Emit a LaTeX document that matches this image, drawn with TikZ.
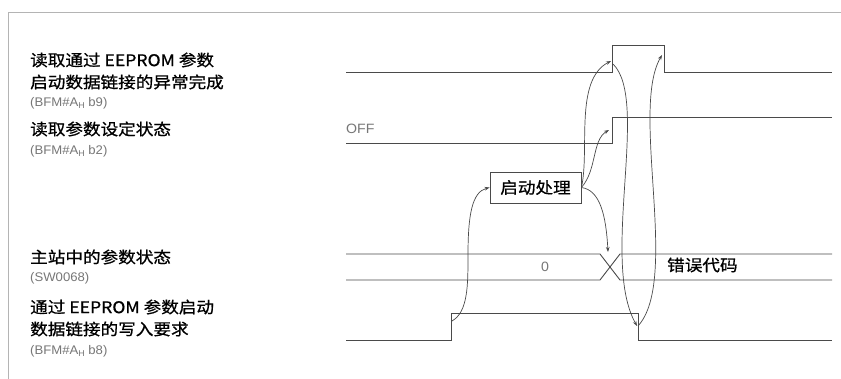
\documentclass[tikz,border=0pt]{standalone}
\usepackage{fontspec}
\newfontfamily\cjk{Noto Sans CJK SC}[FakeStretch=1.1,FakeBold=0.8]
\newfontfamily\lab{Liberation Sans}[FakeStretch=1.05]
\usetikzlibrary{arrows.meta}
\definecolor{sigc}{HTML}{4A4A4A}
\definecolor{gtext}{HTML}{777777}
\definecolor{framec}{HTML}{B4B4B4}
\newcommand{\Hsub}{\raisebox{-0.3ex}{\fontsize{8.5}{8.5}\selectfont H}}
\tikzset{
  sig/.style={draw=sigc, line width=0.9pt},
  conn/.style={draw=sigc, line width=0.7pt, -{Stealth[length=5pt,width=3.6pt]}},
  cjklbl/.style={anchor=west, inner sep=0pt, font=\cjk\fontsize{16}{16}\selectfont},
  greylbl/.style={anchor=west, inner sep=0pt, text=gtext, font=\lab\fontsize{12.5}{12.5}\selectfont},
  procbox/.style={draw=sigc, line width=0.8pt, minimum width=91pt, minimum height=31pt, inner sep=0pt, font=\cjk\fontsize{16}{16}\selectfont}
}
\begin{document}
\begin{tikzpicture}[x=1pt,y=-1pt]
\useasboundingbox (0,0) rectangle (841,379);
\fill[white] (0,0) rectangle (841,379);
% frame
\draw[framec, line width=0.8pt] (8,379) -- (8,12) -- (841,12);
% labels
\node[cjklbl] (l1a) at (30,60) {读取通过 EEPROM 参数};
\node[cjklbl] (l1b) at (30,82) {启动数据链接的异常完成};
\node[greylbl] (l1c) at (30,103) {(BFM\#A\Hsub\ b9)};
\node[cjklbl] (l2a) at (30,129) {读取参数设定状态};
\node[greylbl] (l2b) at (30,151) {(BFM\#A\Hsub\ b2)};
\node[cjklbl] (l3a) at (30,257) {主站中的参数状态};
\node[greylbl] (l3b) at (30,278) {(SW0068)};
\node[cjklbl] (l4a) at (30,307) {通过 EEPROM 参数启动};
\node[cjklbl] (l4b) at (30,329) {数据链接的写入要求};
\node[greylbl] (l4c) at (30,351) {(BFM\#A\Hsub\ b8)};
% signals
\draw[sig] (346,72) -- (612,72) -- (612,45) -- (664,45) -- (664,72) -- (832,72);
\draw[sig] (346,143) -- (612,143) -- (612,117) -- (832,117);
\draw[sig] (346,254) -- (600,254) -- (620,280) -- (832,280);
\draw[sig] (346,280) -- (600,280) -- (620,254) -- (832,254);
\draw[sig] (346,340) -- (451,340) -- (451,313) -- (638,313) -- (638,340) -- (832,340);
% signal texts
\node[greylbl, font=\lab\fontsize{13.5}{13.5}\selectfont] (off) at (346,129) {OFF};
\node[anchor=center, inner sep=0pt, text=gtext, font=\lab\fontsize{13.5}{13.5}\selectfont] (zero) at (545,267) {0};
\node[cjklbl] (err) at (667,265) {错误代码};
% process box
\node[procbox] (proc) at (535.5,187.5) {启动处理};
% event points
\coordinate (b8r) at (452,321);
\coordinate (b9r) at (611,61);
\coordinate (b2r) at (609,130);
\coordinate (xc) at (608,252);
\coordinate (b8f) at (637,326);
\coordinate (b9f) at (662,55);
\coordinate (b9s) at (613,64);
\coordinate (b8s) at (638,326);
% connectors
\draw[conn] (b8r) .. controls (468,312) and (468,285) .. (468,255) .. controls (468,215) and (472,192) .. (proc.west);
\draw[conn] (proc.east) .. controls (600,190) and (606,215) .. (xc);
\draw[conn] (proc.east) .. controls (597,170) and (592,140) .. (b2r);
\draw[conn] (proc.east) .. controls (590,150) and (574,80) .. (b9r);
\draw[conn] (b9s) .. controls (650,100) and (600,260) .. (b8f);
\draw[conn] (b8s) .. controls (680,280) and (630,110) .. (b9f);
\end{tikzpicture}
\end{document}
